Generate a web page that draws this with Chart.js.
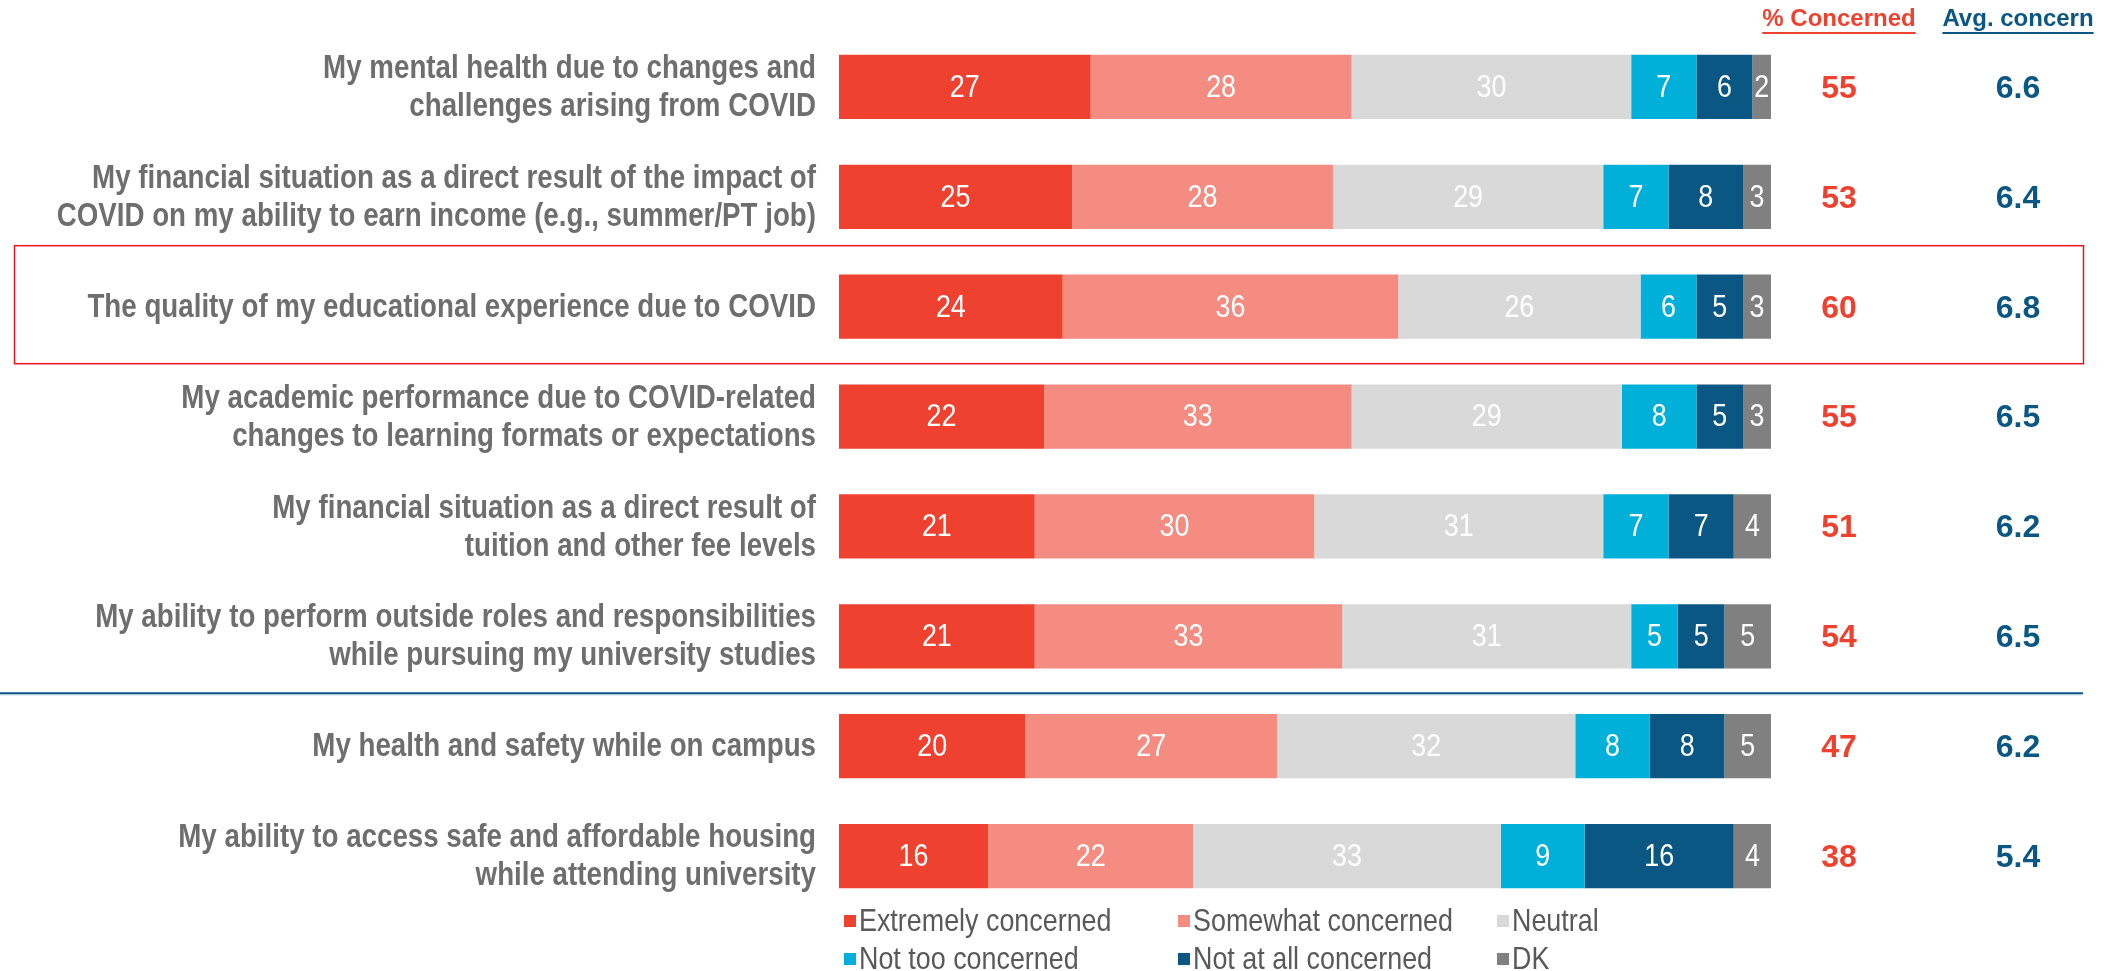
<!DOCTYPE html>
<html>
<head>
<meta charset="utf-8">
<script src="https://cdn.jsdelivr.net/npm/chart.js@4/dist/chart.umd.min.js"></script>
<style>
body { margin: 0; background: #fff; }
</style>
</head>
<body>
<canvas id="chart" width="2128" height="971"></canvas>
<script>
var categories = [
    ["My mental health due to changes and", "challenges arising from COVID"],
    ["My financial situation as a direct result of the impact of", "COVID on my ability to earn income (e.g., summer/PT job)"],
    ["The quality of my educational experience due to COVID"],
    ["My academic performance due to COVID-related", "changes to learning formats or expectations"],
    ["My financial situation as a direct result of", "tuition and other fee levels"],
    ["My ability to perform outside roles and responsibilities", "while pursuing my university studies"],
    ["My health and safety while on campus"],
    ["My ability to access safe and affordable housing", "while attending university"]
];

var extremely = [27, 25, 24, 22, 21, 21, 20, 16];
var somewhat = [28, 28, 36, 33, 30, 33, 27, 22];
var neutral = [30, 29, 26, 29, 31, 31, 32, 33];
var notToo = [7, 7, 6, 8, 7, 5, 8, 9];
var notAtAll = [6, 8, 5, 5, 7, 5, 8, 16];
var dk = [2, 3, 3, 3, 4, 5, 5, 4];

var pctConcerned = [55, 53, 60, 55, 51, 54, 47, 38];
var avgConcern = ["6.6", "6.4", "6.8", "6.5", "6.2", "6.5", "6.2", "5.4"];

var red = '#ef412f';
var pink = '#f48c82';
var lightGrey = '#d9d9d9';
var cyan = '#00b0d8';
var navy = '#0b5783';
var grey = '#808080';
var textGrey = '#6e6e6e';

var sans = '"Liberation Sans", Arial, sans-serif';

// Arial Narrow look-alike: draw Liberation Sans squeezed horizontally
function narrowText(ctx, text, x, y, sx, align) {
    ctx.save();
    ctx.translate(x, y);
    ctx.scale(sx, 1);
    ctx.textAlign = align;
    ctx.fillText(text, 0, 0);
    ctx.restore();
}

// category labels on the left, drawn at the y scale positions
var rowLabels = {
    id: 'rowLabels',
    afterDraw: function (chart) {
        var ctx = chart.ctx;
        var y = chart.scales.y;
        var lineH = 38;
        ctx.save();
        ctx.fillStyle = textGrey;
        ctx.font = 'bold 33px ' + sans;
        ctx.textBaseline = 'middle';
        categories.forEach(function (lines, i) {
            var cy = y.getPixelForValue(i);
            var top = cy - (lines.length - 1) * lineH / 2;
            lines.forEach(function (line, k) {
                narrowText(ctx, line, 816, top + k * lineH + 1, 0.84, 'right');
            });
        });
        ctx.restore();
    }
};

// value labels inside the bars
var barLabels = {
    id: 'barLabels',
    afterDatasetsDraw: function (chart) {
        var ctx = chart.ctx;
        ctx.save();
        ctx.fillStyle = '#fff';
        ctx.font = '32px ' + sans;
        ctx.textBaseline = 'middle';
        chart.data.datasets.forEach(function (ds, i) {
            var meta = chart.getDatasetMeta(i);
            meta.data.forEach(function (bar, j) {
                narrowText(ctx, String(ds.data[j]), (bar.x + bar.base) / 2, bar.y + 1, 0.84, 'center');
            });
        });
        ctx.restore();
    }
};

// right columns, headers, separator, highlight box, legend
var extras = {
    id: 'extras',
    afterDraw: function (chart) {
        var ctx = chart.ctx;
        var y = chart.scales.y;
        ctx.save();

        ctx.textAlign = 'center';
        ctx.textBaseline = 'middle';
        ctx.font = 'bold 32px ' + sans;
        for (var i = 0; i < pctConcerned.length; i++) {
            var py = y.getPixelForValue(i) + 2;
            ctx.fillStyle = red;
            ctx.fillText(pctConcerned[i], 1839, py);
            ctx.fillStyle = navy;
            ctx.fillText(avgConcern[i], 2018, py);
        }

        // headers
        ctx.font = 'bold 24px ' + sans;
        var heads = [['% Concerned', 1839, red], ['Avg. concern', 2018, navy]];
        heads.forEach(function (h) {
            var w = ctx.measureText(h[0]).width;
            ctx.fillStyle = h[2];
            ctx.fillText(h[0], h[1], 19);
            ctx.fillRect(h[1] - w / 2, 32, w, 2);
        });

        // separator between the two groups
        var sy = (y.getPixelForValue(5) + y.getPixelForValue(6)) / 2 + 2;
        ctx.fillStyle = navy;
        ctx.fillRect(0, sy - 1, 2083, 2);
        ctx.fillStyle = '#a9c2d6';
        ctx.fillRect(0, sy + 1, 2083, 1);

        // highlight box
        var hy = y.getPixelForValue(2);
        ctx.strokeStyle = '#e8141e';
        ctx.lineWidth = 1.5;
        ctx.strokeRect(14.5, hy - 61, 2069, 118);

        // legend
        var cols = [844, 1178, 1497];
        var rows = [921, 959];
        ctx.font = '32px ' + sans;
        chart.data.datasets.forEach(function (ds, i) {
            var lx = cols[i % 3];
            var ly = rows[Math.floor(i / 3)];
            ctx.fillStyle = ds.backgroundColor;
            ctx.fillRect(lx, ly - 6, 12, 12);
            ctx.fillStyle = '#595959';
            narrowText(ctx, ds.label, lx + 15, ly + 1, 0.84, 'left');
        });

        ctx.restore();
    }
};

var ctx = document.getElementById('chart').getContext('2d');
var chart = new Chart(ctx, {
    type: 'bar',
    data: {
        labels: categories.map(function (c) { return c.join(' '); }),
        datasets: [
            { label: 'Extremely concerned', data: extremely, backgroundColor: red },
            { label: 'Somewhat concerned', data: somewhat, backgroundColor: pink },
            { label: 'Neutral', data: neutral, backgroundColor: lightGrey },
            { label: 'Not too concerned', data: notToo, backgroundColor: cyan },
            { label: 'Not at all concerned', data: notAtAll, backgroundColor: navy },
            { label: 'DK', data: dk, backgroundColor: grey }
        ]
    },
    options: {
        indexAxis: 'y',
        responsive: false,
        animation: false,
        devicePixelRatio: 1,
        layout: { padding: { top: 32, bottom: 60, left: 0, right: 357 } },
        datasets: { bar: { barPercentage: 0.585, categoryPercentage: 1 } },
        plugins: {
            legend: { display: false },
            tooltip: { enabled: false }
        },
        scales: {
            x: { stacked: true, min: 0, max: 100, display: false },
            y: {
                stacked: true,
                grid: { display: false },
                border: { display: false },
                ticks: { display: false },
                afterFit: function (scale) {
                    scale.width = 839;
                    scale.paddingTop = 0;
                    scale.paddingBottom = 0;
                }
            }
        }
    },
    plugins: [barLabels, rowLabels, extras]
});
</script>
</body>
</html>
